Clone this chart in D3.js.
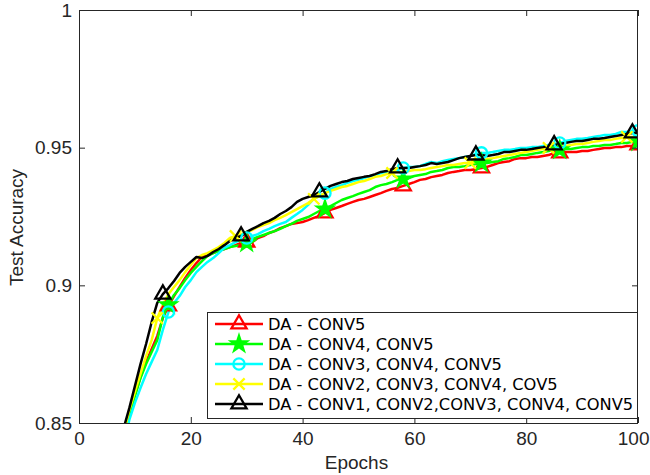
<!DOCTYPE html>
<html><head><meta charset="utf-8">
<script src="https://cdn.jsdelivr.net/npm/d3@7"></script>
<style>body{margin:0;background:#fff}</style>
</head><body>
<svg id="c" width="650" height="475"></svg>
<script>
// ---------------- DATA ----------------
const epochs = d3.range(8, 101); // epochs 8..100
const seriesNames = ["DA  - CONV5", "DA  - CONV4, CONV5", "DA  - CONV3, CONV4, CONV5",
  "DA  - CONV2, CONV3, CONV4, COV5", "DA  - CONV1, CONV2,CONV3, CONV4, CONV5"];
const conv5 = [0.8453,0.8533,0.8602,0.8667,0.8722,0.8769,0.8816,0.8881,0.8925,0.8961,0.8994,0.9027,0.9056,0.9081,0.9103,0.9110,0.9117,0.9125,0.9132,0.9139,0.9146,0.9154,0.9157,0.9157,0.9172,0.9179,0.9190,0.9197,0.9208,0.9215,0.9223,0.9226,0.9230,0.9237,0.9245,0.9252,0.9263,0.9274,0.9281,0.9288,0.9296,0.9303,0.9310,0.9314,0.9321,0.9328,0.9335,0.9343,0.9350,0.9354,0.9361,0.9368,0.9375,0.9383,0.9386,0.9393,0.9397,0.9401,0.9408,0.9412,0.9415,0.9419,0.9419,0.9422,0.9426,0.9430,0.9437,0.9444,0.9448,0.9451,0.9459,0.9462,0.9462,0.9466,0.9466,0.9470,0.9473,0.9481,0.9481,0.9484,0.9484,0.9484,0.9488,0.9488,0.9492,0.9495,0.9499,0.9499,0.9502,0.9502,0.9506,0.9506,0.9510];
const conv45 = [0.8453,0.8533,0.8598,0.8663,0.8714,0.8758,0.8801,0.8885,0.8929,0.8965,0.8990,0.9019,0.9045,0.9067,0.9088,0.9107,0.9117,0.9125,0.9132,0.9139,0.9143,0.9146,0.9154,0.9168,0.9176,0.9183,0.9190,0.9197,0.9205,0.9215,0.9223,0.9234,0.9241,0.9248,0.9259,0.9270,0.9277,0.9288,0.9299,0.9310,0.9317,0.9324,0.9332,0.9339,0.9346,0.9357,0.9364,0.9368,0.9375,0.9383,0.9386,0.9390,0.9397,0.9401,0.9404,0.9412,0.9415,0.9419,0.9426,0.9430,0.9430,0.9433,0.9437,0.9441,0.9444,0.9444,0.9448,0.9451,0.9459,0.9462,0.9466,0.9473,0.9473,0.9477,0.9481,0.9484,0.9488,0.9492,0.9492,0.9495,0.9495,0.9499,0.9502,0.9502,0.9506,0.9506,0.9510,0.9510,0.9513,0.9517,0.9517,0.9521,0.9521];
const conv345 = [0.8420,0.8511,0.8573,0.8627,0.8678,0.8722,0.8765,0.8838,0.8903,0.8936,0.8961,0.8994,0.9019,0.9048,0.9067,0.9085,0.9099,0.9117,0.9136,0.9146,0.9157,0.9165,0.9172,0.9179,0.9186,0.9197,0.9205,0.9215,0.9223,0.9230,0.9245,0.9259,0.9274,0.9292,0.9314,0.9324,0.9335,0.9350,0.9357,0.9364,0.9372,0.9379,0.9383,0.9390,0.9397,0.9401,0.9408,0.9412,0.9419,0.9422,0.9426,0.9430,0.9430,0.9433,0.9441,0.9448,0.9444,0.9451,0.9455,0.9459,0.9462,0.9466,0.9470,0.9477,0.9481,0.9481,0.9484,0.9488,0.9492,0.9492,0.9495,0.9499,0.9499,0.9502,0.9502,0.9506,0.9510,0.9513,0.9517,0.9524,0.9528,0.9532,0.9532,0.9535,0.9539,0.9542,0.9546,0.9546,0.9550,0.9557,0.9557,0.9561,0.9561];
const conv2345 = [0.8467,0.8547,0.8613,0.8678,0.8743,0.8801,0.8881,0.8929,0.8968,0.8994,0.9019,0.9048,0.9074,0.9099,0.9110,0.9117,0.9128,0.9139,0.9154,0.9172,0.9179,0.9186,0.9194,0.9201,0.9212,0.9219,0.9226,0.9237,0.9245,0.9255,0.9266,0.9277,0.9288,0.9299,0.9314,0.9324,0.9335,0.9343,0.9350,0.9357,0.9361,0.9368,0.9375,0.9379,0.9386,0.9394,0.9397,0.9404,0.9408,0.9412,0.9412,0.9415,0.9419,0.9419,0.9422,0.9426,0.9430,0.9433,0.9437,0.9437,0.9441,0.9444,0.9444,0.9448,0.9451,0.9459,0.9462,0.9466,0.9470,0.9473,0.9477,0.9481,0.9484,0.9488,0.9492,0.9495,0.9499,0.9502,0.9506,0.9506,0.9510,0.9513,0.9513,0.9517,0.9521,0.9524,0.9528,0.9528,0.9532,0.9535,0.9539,0.9539,0.9542];
const conv12345 = [0.8482,0.8554,0.8634,0.8714,0.8787,0.8867,0.8936,0.8968,0.8990,0.9016,0.9045,0.9067,0.9085,0.9103,0.9099,0.9107,0.9121,0.9132,0.9146,0.9161,0.9172,0.9179,0.9194,0.9205,0.9215,0.9226,0.9234,0.9245,0.9259,0.9270,0.9284,0.9303,0.9314,0.9321,0.9328,0.9339,0.9350,0.9361,0.9368,0.9375,0.9379,0.9386,0.9390,0.9394,0.9397,0.9404,0.9412,0.9415,0.9422,0.9426,0.9426,0.9426,0.9430,0.9433,0.9437,0.9444,0.9441,0.9444,0.9448,0.9455,0.9462,0.9466,0.9470,0.9473,0.9473,0.9470,0.9473,0.9477,0.9484,0.9484,0.9488,0.9492,0.9492,0.9495,0.9499,0.9502,0.9506,0.9510,0.9513,0.9517,0.9521,0.9524,0.9524,0.9528,0.9532,0.9532,0.9535,0.9539,0.9542,0.9546,0.9550,0.9553,0.9553];
const markerEpochs = [
  [16,30,44,58,72,86,100],
  [16,30,44,58,72,86,100],
  [16,30,44,58,72,86,100],
  [14,28,42,56,70,84,98],
  [15,29,43,57,71,85,99]
];
const xTicks = [0,20,40,60,80,100];
const yTicks = [0.85,0.9,0.95,1];
const yTickLabels = ["0.85","0.9","0.95","1"];
const colors = ["#ff0000","#00ff00","#00ffff","#ffff00","#000000"];
const markerTypes = ["triangle","star","circle","times","triangle"];
const allSeries = [conv5, conv45, conv345, conv2345, conv12345];

// ---------------- CHART ----------------
const svg = d3.select("#c");
const L = 79, R = 638, T = 10, B = 423;
const x = d3.scaleLinear().domain([0,100]).range([L,R]);
const y = d3.scaleLinear().domain([0.85,1]).range([B,T]);
const axisColor = "#262626";
const tickFont = "Liberation Sans, Arial, Helvetica, sans-serif";
const fs = "19px";

svg.append("defs").append("clipPath").attr("id","plotclip")
  .append("rect").attr("x",L).attr("y",T).attr("width",R-L).attr("height",B-T);

function symbolPath(type){
  if(type==="triangle") return d3.symbol(d3.symbolTriangle, 100)();
  if(type==="star") return d3.symbol(d3.symbolStar, 75)();
  if(type==="circle") return d3.symbol(d3.symbolCircle, 100)();
  if(type==="times") return d3.symbol(d3.symbolTimes, 85)();
}
function drawMarker(g, type, color, cx, cy){
  const p = g.append("path").attr("d", symbolPath(type))
    .attr("transform", `translate(${cx},${cy})`)
    .attr("stroke", color).attr("stroke-width", 2.3).attr("stroke-linejoin","miter");
  if(type==="star") p.attr("fill", color); else p.attr("fill","none");
}

// lines + markers
const plot = svg.append("g").attr("clip-path","url(#plotclip)");
const line = d3.line().x((d,i)=>x(epochs[i])).y(d=>y(d));
allSeries.forEach((s,k)=>{
  plot.append("path").datum(s).attr("d", line)
    .attr("fill","none").attr("stroke", colors[k]).attr("stroke-width", 2.5)
    .attr("stroke-linejoin","round");
});
allSeries.forEach((s,k)=>{
  markerEpochs[k].forEach(e=>{
    const v = s[epochs.indexOf(e)];
    drawMarker(plot, markerTypes[k], colors[k], x(e), y(v));
  });
});

// axes
const gx = svg.append("g").attr("transform",`translate(0,${B})`)
  .call(d3.axisBottom(x).tickValues(xTicks).tickSizeInner(-6).tickSizeOuter(0).tickPadding(9).tickFormat(d3.format("d")));
const gxt = svg.append("g").attr("transform",`translate(0,${T})`)
  .call(d3.axisTop(x).tickValues(xTicks).tickSizeInner(-6).tickSizeOuter(0).tickFormat(""));
const gy = svg.append("g").attr("transform",`translate(${L},0)`)
  .call(d3.axisLeft(y).tickValues(yTicks).tickSizeInner(-6).tickSizeOuter(0).tickPadding(7)
    .tickFormat((d,i)=>yTickLabels[i]));
const gyr = svg.append("g").attr("transform",`translate(${R},0)`)
  .call(d3.axisRight(y).tickValues(yTicks).tickSizeInner(-6).tickSizeOuter(0).tickFormat(""));
[gx,gxt,gy,gyr].forEach(g=>{
  g.select(".domain").remove();
  g.selectAll("line").attr("stroke",axisColor).attr("stroke-width",1);
  g.selectAll("text").attr("fill",axisColor).style("font-family",tickFont).style("font-size",fs);
});
// keep the last x label inside the picture
gx.selectAll(".tick text").filter(d=>d===100).attr("text-anchor","end").attr("dx", 649 - x(100));
// box
svg.append("rect").attr("x",L+0.5).attr("y",T+0.5).attr("width",R-L-1).attr("height",B-T)
  .attr("fill","none").attr("stroke",axisColor).attr("stroke-width",1);

// axis labels
svg.append("text").attr("x",(L+R)/2 - 2).attr("y",469).attr("text-anchor","middle")
  .style("font-family",tickFont).style("font-size",fs).attr("fill",axisColor).text("Epochs");
svg.append("text").attr("transform",`translate(23,${(T+B)/2 + 11}) rotate(-90)`).attr("text-anchor","middle")
  .style("font-family",tickFont).style("font-size",fs).attr("fill",axisColor).text("Test Accuracy");

// legend
const lg = svg.append("g");
const lx = 207, ly = 312, lw = 430, lh = 106;
lg.append("rect").attr("x",lx+0.5).attr("y",ly+0.5).attr("width",lw).attr("height",lh)
  .attr("fill","#fff").attr("stroke",axisColor).attr("stroke-width",1);
seriesNames.forEach((name,k)=>{
  const cy = 324 + k*20;
  lg.append("line").attr("x1",215).attr("x2",263).attr("y1",cy).attr("y2",cy)
    .attr("stroke",colors[k]).attr("stroke-width",2.5);
  drawMarker(lg, markerTypes[k], colors[k], 239, cy);
  lg.append("text").attr("x",268).attr("y",cy+5.8)
    .style("font-family","DejaVu Sans, sans-serif").style("font-size","16.3px").attr("fill","#000")
    .text(name);
});
</script>
</body></html>
